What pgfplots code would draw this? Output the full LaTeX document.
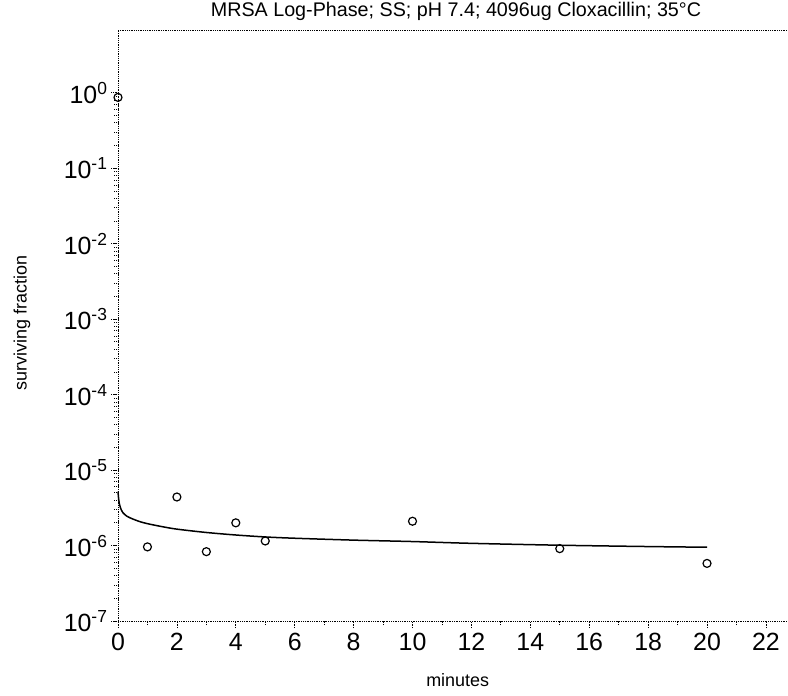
\documentclass[border=0pt]{standalone}
\usepackage{pgfplots}
\pgfplotsset{compat=1.18}
\usepackage{fontspec}
\setmainfont{Liberation Sans}
\begin{document}
\begin{tikzpicture}
\useasboundingbox (0,0) rectangle (788bp,696bp);
\begin{axis}[
  at={(118bp,75bp)}, anchor=south west,
  scale only axis, width=670bp, height=591bp,
  ymode=log, xmin=0, xmax=22.75, ymin=1e-7, ymax=6.8,
  axis x line=box, axis y line*=left,
  axis line style={densely dotted, line width=0.8bp},
  xtick={0,2,...,22}, minor xtick={1,3,...,21},
  ytick={1e-7,1e-6,1e-5,1e-4,1e-3,1e-2,1e-1,1},
  yticklabels={10\textsuperscript{-7},10\textsuperscript{-6},10\textsuperscript{-5},10\textsuperscript{-4},10\textsuperscript{-3},10\textsuperscript{-2},10\textsuperscript{-1},10\textsuperscript{0}},
  xtick pos=bottom, ytick pos=left,
  tick align=outside, major tick length=7bp, minor tick length=4bp,
  every tick/.style={densely dotted, line width=0.8bp, black},
  /pgf/number format/assume math mode=true,
  tick label style={font=\fontsize{25}{27}\selectfont},
  xticklabel style={yshift=-2bp},
  title={MRSA Log-Phase; SS; pH 7.4; 4096ug Cloxacillin; 35°C},
  title style={font=\fontsize{19.8}{22}\selectfont, at={(0.5,1)}, anchor=south, xshift=3bp, yshift=0bp},
  xlabel={minutes},
  xlabel style={font=\fontsize{18}{20}\selectfont, at={(axis description cs:0.507,-0.0998)}, anchor=center},
  ylabel={surviving fraction},
  ylabel style={font=\fontsize{18}{20}\selectfont, at={(axis description cs:-0.1433,0.504)}, anchor=center, rotate=0},
  clip=false,
]
\addplot[only marks, mark=o, mark size=4bp, line width=1.2bp, black] coordinates {
(0,0.87) (1,9.6e-7) (2,4.4e-6) (3,8.3e-7) (4,2.0e-6) (5,1.15e-6) (10,2.1e-6) (15,9.1e-7) (20,5.8e-7)
};
\addplot[black, line width=1.5bp, mark=none, smooth] coordinates {
(0,5.2e-6) (0.03,3.9e-6) (0.08,3.2e-6) (0.16,2.75e-6) (0.3,2.45e-6) (0.5,2.25e-6) (0.75,2.07e-6) (1,1.95e-6) (1.5,1.78e-6) (2,1.65e-6) (3,1.49e-6) (4,1.38e-6) (5,1.3e-6) (6,1.25e-6) (8,1.18e-6) (10,1.13e-6) (12,1.07e-6) (15,1.01e-6) (18,0.97e-6) (20,0.95e-6)
};
\end{axis}
\end{tikzpicture}
\end{document}
